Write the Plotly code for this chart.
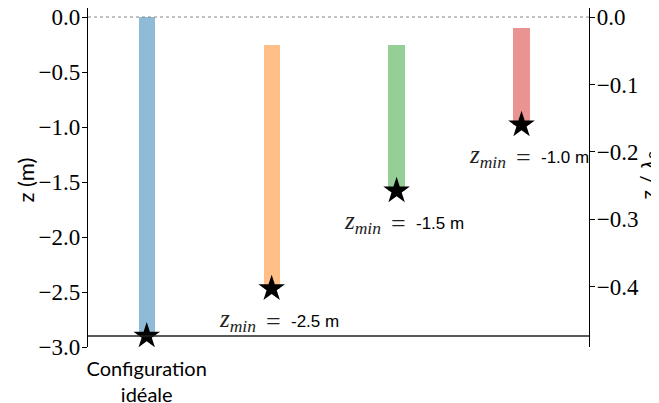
import plotly.graph_objects as go

# Data
categories = ["Configuration<br>idéale", "", "", ""]
x_pos = [0, 1, 2, 3]
bar_top = [0.0, -0.25, -0.25, -0.10]
z_min = [-2.90, -2.47, -1.58, -0.98]
labels = ["", "-2.5 m", "-1.5 m", "-1.0 m"]
colors = ["#8fbbd9", "#ffbf86", "#95cf95", "#ea9393"]
lam0 = 6.13
left_ticks = [0.0, -0.5, -1.0, -1.5, -2.0, -2.5, -3.0]
right_ticks = [0.0, -0.1, -0.2, -0.3, -0.4]
ref_line_z = -2.90

SERIF = "Liberation Serif, serif"
SANS = "Lato, sans-serif"
VALSANS = "Liberation Sans, Arial, sans-serif"

fig = go.Figure()
fig.add_trace(go.Bar(
    x=x_pos, base=bar_top, y=[b - t for b, t in zip(z_min, bar_top)],
    width=0.13, marker=dict(color=colors, line=dict(width=0)),
    hoverinfo="skip", showlegend=False))
fig.add_trace(go.Scatter(
    x=x_pos, y=z_min, mode="markers",
    marker=dict(symbol="star", size=20, color="black"),
    showlegend=False, hoverinfo="skip"))
fig.add_trace(go.Scatter(
    x=x_pos, y=[z / lam0 for z in z_min], yaxis="y2", mode="markers",
    marker=dict(opacity=0), showlegend=False, hoverinfo="skip"))

# horizontal reference lines
fig.add_shape(type="line", xref="paper", x0=0, x1=1, yref="y", y0=0, y1=0,
              line=dict(color="#888888", width=1, dash="dot"))
fig.add_shape(type="line", xref="paper", x0=0, x1=1, yref="y", y0=ref_line_z, y1=ref_line_z,
              line=dict(color="#222222", width=1.3))

for x, z, lab in zip(x_pos, z_min, labels):
    if not lab:
        continue
    fig.add_annotation(
        x=x, y=z, xref="x", yref="y", showarrow=False, yshift=-32, xshift=-14,
        xanchor="right", text="<i>z</i><sub><i>min</i></sub>",
        font=dict(family=SERIF, size=25, color="#222222"))
    fig.add_annotation(
        x=x, y=z, xref="x", yref="y", showarrow=False, yshift=-33, xshift=2,
        xanchor="center", text="=",
        font=dict(family=SERIF, size=26, color="#222222"))
    fig.add_annotation(
        x=x, y=z, xref="x", yref="y", showarrow=False, yshift=-33, xshift=17,
        xanchor="left", text=lab,
        font=dict(family=VALSANS, size=17, color="black"))

# axis titles
fig.add_annotation(x=0, y=0.5, xref="paper", yref="paper", xshift=-63, yshift=-3,
                   xanchor="center", yanchor="middle",
                   showarrow=False, textangle=-90, text="z (m)",
                   font=dict(family=SANS, size=22, color="black"))
fig.add_annotation(x=1, y=0.5, xref="paper", yref="paper", xshift=59, yshift=2,
                   xanchor="center", yanchor="middle",
                   showarrow=False, textangle=-90,
                   text="z / <i>λ</i><sub>0</sub>",
                   font=dict(family=SANS, size=21, color="black"))

axis_common = dict(showgrid=False, zeroline=False, showline=True, linecolor="black",
                   linewidth=1.2, ticks="outside", ticklen=5, tickcolor="black",
                   automargin=False, ticklabeloverflow="allow", ticklabelstandoff=-3,
                   tickfont=dict(family=SERIF, size=23, color="black"))

fig.update_layout(
    width=659, height=403,
    margin=dict(l=80, r=78, t=0, b=64, autoexpand=False),
    paper_bgcolor="white", plot_bgcolor="white",
    bargap=0,
    xaxis=dict(range=[-0.47, 3.54], tickvals=x_pos, ticktext=categories,
               showgrid=False, zeroline=False, showline=False, ticks="",
               ticklabelstandoff=8, automargin=False, ticklabeloverflow="allow",
               tickfont=dict(family=SANS, size=20, color="black")),
    yaxis=dict(range=[-3.0, 0.082], tickvals=left_ticks,
               ticktext=[f"{v:.1f}".replace("-", "−") for v in left_ticks],
               **axis_common),
    yaxis2=dict(range=[-3.0 / lam0, 0.082 / lam0], overlaying="y", side="right",
                tickvals=right_ticks,
                ticktext=[f"{v:.1f}".replace("-", "−") for v in right_ticks],
                **axis_common),
)

fig.write_html("out.html")
